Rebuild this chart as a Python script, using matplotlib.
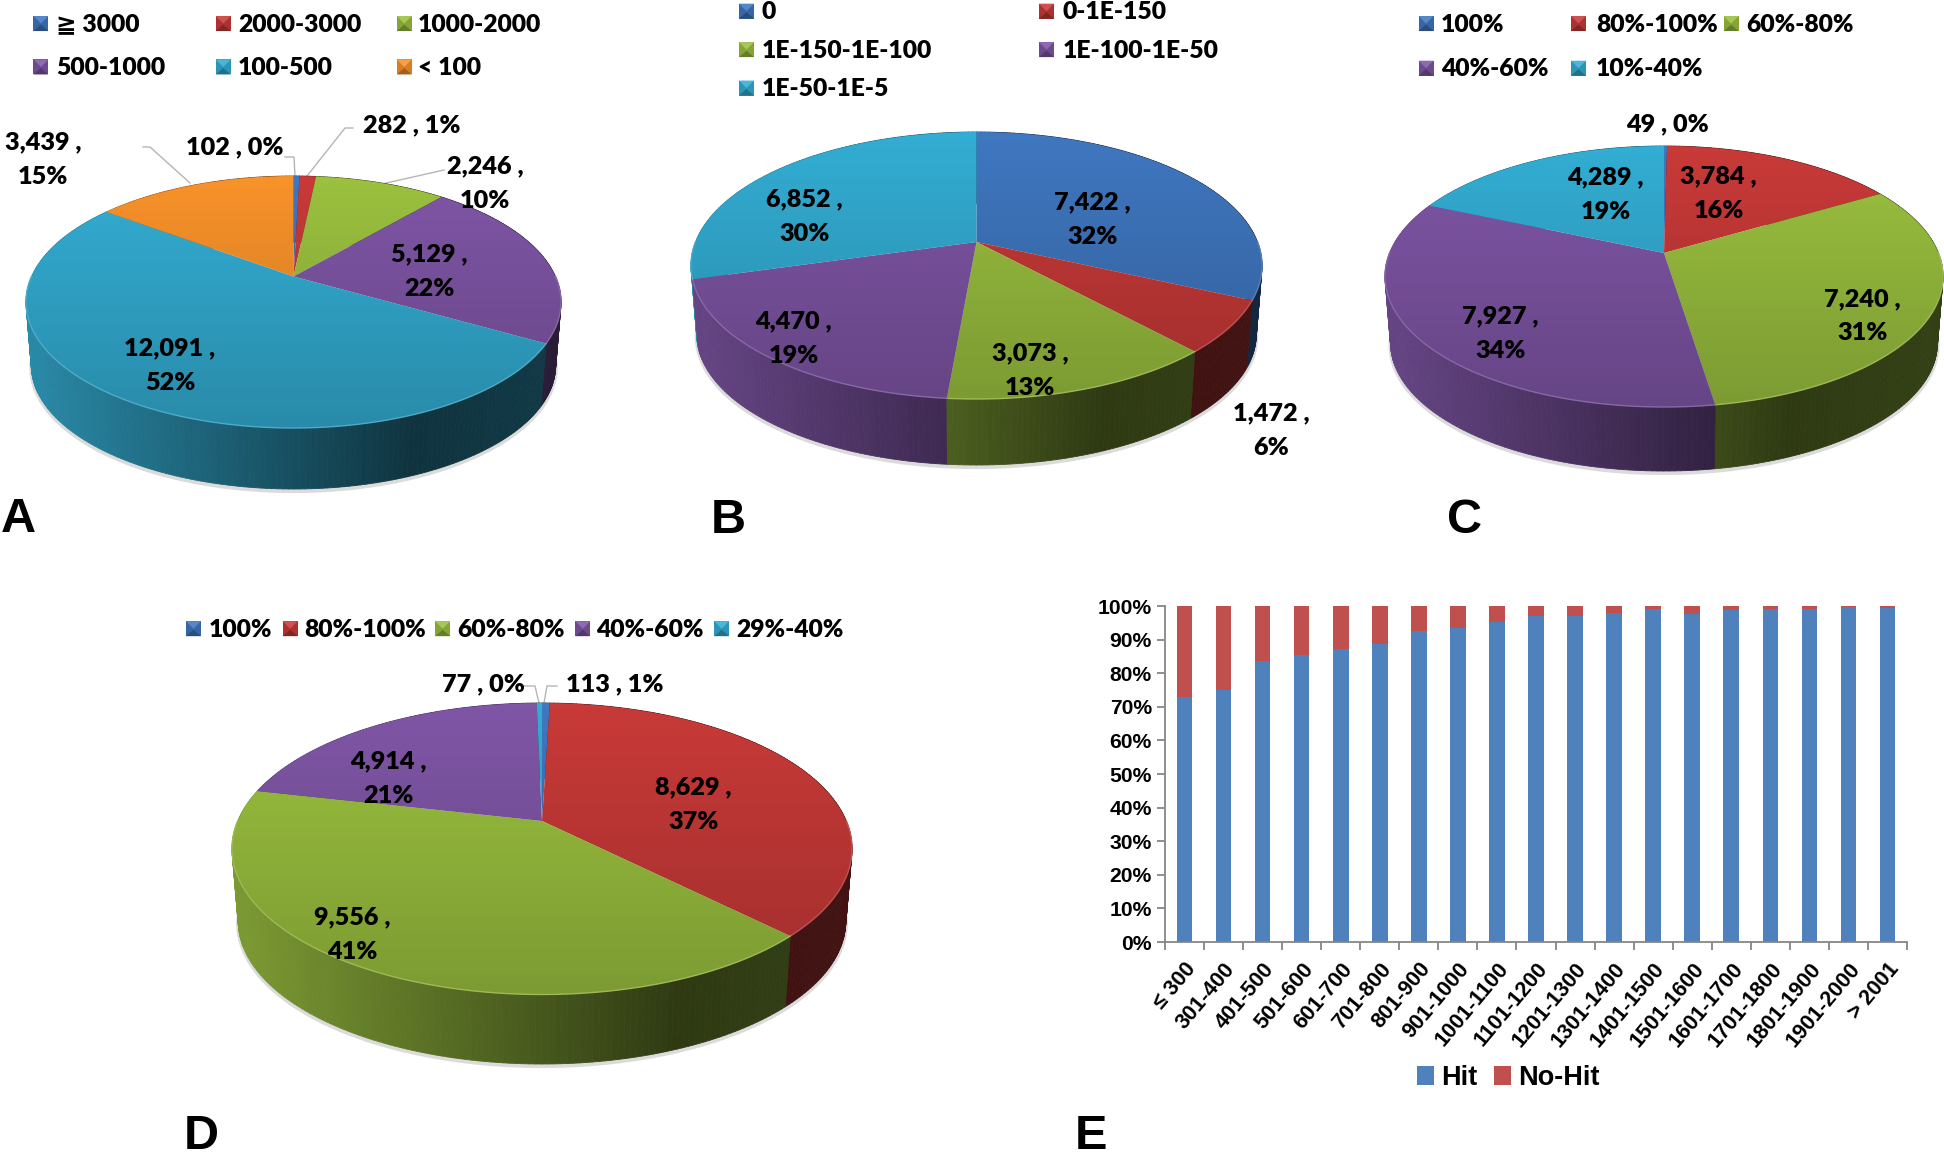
import numpy as np
import matplotlib
matplotlib.use("Agg")
import matplotlib.pyplot as plt
from matplotlib.collections import PolyCollection
from matplotlib.patches import Polygon, Rectangle
from matplotlib.transforms import Transform
from matplotlib.ticker import FixedLocator, PercentFormatter, NullFormatter, FixedFormatter

W, H = 1944, 1160
PX = 1.24  # overview-to-full scale for layout positions

BLUE, RED, GREEN, PURPLE, CYAN, ORANGE = "#3F77C0", "#C83A38", "#9BC13F", "#7F56A6", "#33ADD3", "#F8922A"

# ---------- data ----------
names_a = ["≧ 3000", "2000-3000", "1000-2000", "500-1000", "100-500", "< 100"]
values_a = [102, 282, 2246, 5129, 12091, 3439]
pct_a = [0, 1, 10, 22, 52, 15]

names_b = ["0", "0-1E-150", "1E-150-1E-100", "1E-100-1E-50", "1E-50-1E-5"]
values_b = [7422, 1472, 3073, 4470, 6852]
pct_b = [32, 6, 13, 19, 30]

names_c = ["100%", "80%-100%", "60%-80%", "40%-60%", "10%-40%"]
values_c = [49, 3784, 7240, 7927, 4289]
pct_c = [0, 16, 31, 34, 19]

names_d = ["100%", "80%-100%", "60%-80%", "40%-60%", "29%-40%"]
values_d = [113, 8629, 9556, 4914, 77]
pct_d = [1, 37, 41, 21, 0]

length_bins = ["≤ 300", "301-400", "401-500", "501-600", "601-700", "701-800", "801-900",
               "901-1000", "1001-1100", "1101-1200", "1201-1300", "1301-1400", "1401-1500",
               "1501-1600", "1601-1700", "1701-1800", "1801-1900", "1901-2000", "> 2001"]
hit_pct = [73, 75, 83.5, 85.5, 87.3, 88.7, 92.7, 93.6, 95.2, 97, 97, 98, 99.1, 97.6, 98.8, 99.1, 99.1, 99.6, 99.5]
nohit_pct = [27, 25, 16.5, 14.5, 12.7, 11.3, 7.3, 6.4, 4.8, 3, 3, 2, 0.9, 2.4, 1.2, 0.9, 0.9, 0.4, 0.5]

LABEL_WEIGHT = "heavy"

# ---------- helpers ----------
class PieProjection(Transform):
    """Perspective mapping of the unit disk to pixel coordinates."""
    input_dims = 2
    output_dims = 2
    is_separable = False
    has_inverse = False

    def __init__(self, cx, y0, a, b, k):
        super().__init__()
        self.p = (cx, y0, a, b, k)

    def transform_non_affine(self, values):
        cx, y0, a, b, k = self.p
        values = np.asarray(values, dtype=float)
        w = 1 + k * values[:, 1]
        return np.column_stack([cx + a * values[:, 0] / w, y0 - b * values[:, 1] / w])


def shade(color, f):
    return tuple(np.array(matplotlib.colors.to_rgb(color)) * f)


def lighten(color, f):
    c = np.array(matplotlib.colors.to_rgb(color))
    return tuple(c + (1 - c) * f)


def circle(theta_deg):
    th = np.radians(theta_deg)
    return np.column_stack([np.sin(th), np.cos(th)])  # clockwise from 12 o'clock


def make_axes(x0, y0, x1, y1):
    ax = fig.add_axes([x0 / W, 1 - y1 / H, (x1 - x0) / W, (y1 - y0) / H])
    ax._px = (x0, x1, y1, y0)
    return ax


def legend_entry(ax, x, y, text_x, color, text):
    s = 7.5
    ax.add_patch(Rectangle((x - s, y - s), 2 * s, 2 * s, fc=shade(color, 0.86), ec="none", zorder=5))
    ax.add_patch(Polygon([(x - s, y - s), (x + s, y - s), (x, y)], fc=lighten(color, 0.12), ec="none", zorder=6))
    ax.add_patch(Polygon([(x - s, y + s), (x + s, y + s), (x, y + 1)], fc=shade(color, 0.65), ec="none", zorder=6))
    ax.text(text_x, y + 1.0, text, ha="left", va="center", fontsize=17.7, fontweight=LABEL_WEIGHT,
            family=["Lato", "DejaVu Sans"], zorder=7)


def draw_pie(ax, values, colors, left, right, top, rim, apex_y, base, pcts, label_xy, one_line):
    cx = (left + right) / 2
    hw = (right - left) / 2
    up, dn = apex_y - top, rim - apex_y
    k = (dn - up) / (dn + up)
    b = up * (1 + k)
    a = hw * np.sqrt(1 - k ** 2)
    s = 0.98
    depth = base - apex_y - s * dn
    proj_top = PieProjection(cx, apex_y, a, b, k)
    proj_base = PieProjection(cx, apex_y + depth, a * s, b * s, k)

    wedges, _ = ax.pie(values, colors=colors, startangle=90, counterclock=False, radius=1,
                       wedgeprops=dict(linewidth=0))
    ax.set_aspect("auto")
    data_tf = ax.transData
    for wd in wedges:
        wd.set_transform(proj_top + data_tf)
        wd.set_zorder(3)

    edges = np.concatenate([[0], np.cumsum(values)]) / np.sum(values) * 360

    # soft shadow under the base
    th = np.linspace(90, 270, 200)
    sh = proj_base.transform_non_affine(circle(th))
    ax.plot(sh[:, 0], sh[:, 1] + 2, color="#9a9a9a", lw=3.0, alpha=0.35, zorder=1, solid_capstyle="round")

    # side wall strips, back to front
    polys, cols = [], []
    for i, col in enumerate(colors):
        n = max(2, int(np.ceil(edges[i + 1] - edges[i])) + 1)
        ang = np.linspace(edges[i], edges[i + 1], n)
        t_pts = proj_top.transform_non_affine(circle(ang))
        b_pts = proj_base.transform_non_affine(circle(ang))
        for j in range(n - 1):
            polys.append([t_pts[j], t_pts[j + 1], b_pts[j + 1], b_pts[j]])
            tt = ((t_pts[j, 0] + t_pts[j + 1, 0]) / 2 - left) / (2 * hw)
            cols.append(shade(col, np.interp(tt, [0, 0.72, 1], [0.80, 0.30, 0.33])))
    order = np.argsort([np.mean(np.array(p)[:, 1]) for p in polys])
    pc = PolyCollection([polys[i] for i in order], facecolors=[cols[i] for i in order],
                        edgecolors="face", linewidths=0.6, zorder=2)
    ax.add_collection(pc)

    # vertical shading of the top face, clipped to the disk
    outline = proj_top.transform_non_affine(circle(np.linspace(0, 360, 361)))
    grad = np.zeros((256, 2, 4))
    grad[:, :, 3] = np.linspace(0, 0.2, 256)[:, None]
    im = ax.imshow(grad, extent=(left, right, rim, top), aspect="auto", zorder=4, interpolation="bilinear")
    im.set_clip_path(Polygon(outline, transform=ax.transData))

    # light rim on the front edge
    for i, col in enumerate(colors):
        lo, hi = max(edges[i], 90), min(edges[i + 1], 270)
        if hi > lo:
            pts = proj_top.transform_non_affine(circle(np.linspace(lo, hi, 120)))
            ax.plot(pts[:, 0], pts[:, 1], color=lighten(shade(col, 0.9), 0.15), lw=1.0, zorder=4.5)

    # data labels
    for v, p, (x, y), single in zip(values, pcts, label_xy, one_line):
        sep = " " if single else "\n"
        ax.text(x * PX, y * PX, f"{v:,} ,{sep}{p}%", ha="center", va="center", fontsize=18.2,
                fontweight=LABEL_WEIGHT, family=["Lato", "DejaVu Sans"], linespacing=1.7, zorder=8)


def leader(ax, pts):
    xs, ys = zip(*pts)
    ax.plot(xs, ys, color="#b5b5b5", lw=1.0, zorder=0.5)


def finish(ax):
    x0, x1, y1, y0 = ax._px
    ax.set_xlim(x0, x1)
    ax.set_ylim(y1, y0)
    ax.axis("off")


fig = plt.figure(figsize=(W / 100, H / 100), dpi=100, facecolor="white")

# ---------- A ----------
ax = make_axes(0, 0, 690, 530)
cols = [BLUE, RED, GREEN, PURPLE, CYAN, ORANGE]
draw_pie(ax, values_a, cols, 26, 561, 176, 428, 276.5, 489, pct_a,
         [(189, 119), (332, 101), (391, 148), (346, 219), (137, 295), (35, 129)],
         [True, True, False, False, False, False])
leader(ax, [(285, 157), (294, 157), (295, 176)])
leader(ax, [(353, 128), (345, 128), (307, 176)])
leader(ax, [(444, 170), (382, 184)])
leader(ax, [(143, 147), (150, 147), (190, 183)])
for (sx, tx, y), c, t in zip([(33, 45, 19), (180, 192, 19), (326, 337, 19), (33, 45, 54), (180, 192, 54), (326, 337, 54)], cols, names_a):
    legend_entry(ax, sx * PX, y * PX, tx * PX, c, t)
finish(ax)

# ---------- B ----------
ax = make_axes(680, 0, 1380, 530)
cols = [BLUE, RED, GREEN, PURPLE, CYAN]
draw_pie(ax, values_b, cols, 691, 1262, 132, 399, 242, 465, pct_b,
         [(881, 177), (1025, 347), (831, 299), (640, 273), (649, 175)], [False] * 5)
for (sx, tx, y), c, t in zip([(602, 614, 9), (844, 857, 9), (602, 614, 40), (844, 857, 40), (602, 614, 71)], cols, names_b):
    legend_entry(ax, sx * PX, y * PX, tx * PX, c, t)
finish(ax)

# ---------- C ----------
ax = make_axes(1370, 0, 1944, 530)
draw_pie(ax, values_c, cols, 1385, 1943, 146, 407, 253, 471, pct_c,
         [(1345, 100), (1386, 156), (1502, 255), (1210, 269), (1295, 157)],
         [True, False, False, False, False])
for (sx, tx, y), c, t in zip([(1150, 1162, 19), (1273, 1287, 19), (1396, 1408, 19), (1150, 1162, 55), (1273, 1287, 55)], cols, names_c):
    legend_entry(ax, sx * PX, y * PX, tx * PX, c, t)
finish(ax)

# ---------- D ----------
ax = make_axes(0, 600, 1060, 1160)
draw_pie(ax, values_d, cols, 232, 852, 703, 994.5, 821, 1064, pct_d,
         [(496, 552), (559, 649), (284, 754), (313, 628), (389.5, 552)],
         [True, False, False, False, True])
leader(ax, [(521, 686), (535, 686), (539, 703)])
leader(ax, [(557, 686), (547, 686), (544, 703)])
for (sx, tx), c, t in zip([(156, 168), (234, 245), (357, 369), (470, 481), (582, 594)], cols, names_d):
    legend_entry(ax, sx * PX, 507 * PX, tx * PX, c, t)
finish(ax)

# ---------- E ----------
axe = fig.add_axes([1165 / W, 1 - 942 / H, (1907 - 1165) / W, (942 - 606) / H])
x = np.arange(len(length_bins))
FONT = "Liberation Sans"
b1 = axe.bar(x, hit_pct, width=0.4, color="#4F81BD", label="Hit")
b2 = axe.bar(x, nohit_pct, width=0.4, bottom=hit_pct, color="#C0504D", label="No-Hit")
axe.set_xlim(-0.5, len(length_bins) - 0.5)
axe.set_ylim(0, 100)
axe.yaxis.set_major_locator(FixedLocator(np.arange(0, 101, 10)))
axe.yaxis.set_major_formatter(PercentFormatter(100, decimals=0))
axe.xaxis.set_major_locator(FixedLocator(np.arange(len(length_bins) + 1) - 0.5))
axe.xaxis.set_major_formatter(NullFormatter())
axe.xaxis.set_minor_locator(FixedLocator(x))
axe.xaxis.set_minor_formatter(FixedFormatter(length_bins))
axe.tick_params(axis="x", which="minor", length=0, pad=12)
axe.tick_params(axis="both", which="major", length=6, width=1.3, color="#868686")
for lab in axe.get_xticklabels(minor=True):
    lab.set(rotation=50, ha="right", va="top", rotation_mode="anchor", fontsize=15.5, fontweight="bold", family=FONT)
for lab in axe.get_yticklabels():
    lab.set(fontsize=15.2, fontweight="bold", family=FONT)
for side in ("top", "right"):
    axe.spines[side].set_visible(False)
for side in ("left", "bottom"):
    axe.spines[side].set_color("#868686")
    axe.spines[side].set_linewidth(1.3)
axe.legend(handles=[b1, b2], ncol=2, loc="center", bbox_to_anchor=(1508 / W, 1 - 1078 / H),
           bbox_transform=fig.transFigure, frameon=False, handlelength=0.65, handleheight=0.65,
           handletextpad=0.25, columnspacing=0.6, prop=dict(family=FONT, weight="bold", size=19.5))

# ---------- panel letters ----------
for letter, lx, base_y in [("A", 15, 532), ("B", 587, 533), ("C", 1181, 533), ("D", 162, 1149), ("E", 880, 1149)]:
    fig.text(lx * PX / W, 1 - base_y / H, letter, ha="center", va="baseline", fontsize=35,
             fontweight="bold", family=FONT)

fig.savefig("out.png", dpi=100, facecolor="white")
